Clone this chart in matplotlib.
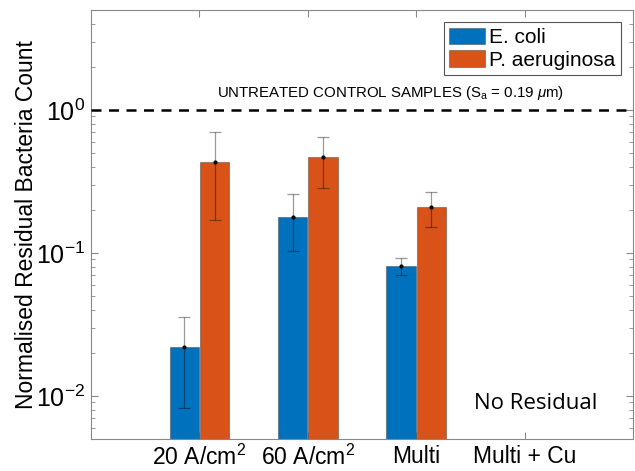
import numpy as np
import matplotlib.pyplot as plt
from matplotlib.ticker import LogLocator, NullFormatter

plt.rcParams['font.family'] = ['Liberation Sans', 'DejaVu Sans']
plt.rcParams['mathtext.fontset'] = 'custom'
plt.rcParams['mathtext.rm'] = 'Liberation Sans'
plt.rcParams['mathtext.it'] = 'Liberation Sans:italic'
plt.rcParams['axes.unicode_minus'] = False

categories = ["20 A/cm$^2$", "60 A/cm$^2$", "Multi", "Multi + Cu"]
series = ["E. coli", "P. aeruginosa"]
colors = ["#0072BD", "#D95319"]

# values for the first three categories; Multi + Cu has no residual
ecoli = [0.022, 0.179, 0.081]
ecoli_lo = [0.0082, 0.103, 0.070]
ecoli_hi = [0.0357, 0.259, 0.092]
paer = [0.433, 0.469, 0.210]
paer_lo = [0.170, 0.285, 0.152]
paer_hi = [0.70, 0.65, 0.267]

control_level = 1.0

fig = plt.figure(figsize=(6.35, 4.71), dpi=100)
ax = fig.add_axes([91 / 635, 1 - 439 / 471, (633 - 91) / 635, (439 - 10) / 471])

x = np.arange(1, len(categories) + 1)
w = 0.27
off = 0.14
for i, (vals, lo, hi, name) in enumerate([(ecoli, ecoli_lo, ecoli_hi, series[0]),
                                          (paer, paer_lo, paer_hi, series[1])]):
    xs = x[:len(vals)] + (-off if i == 0 else off)
    ax.bar(xs, vals, width=w, color=colors[i], edgecolor=(0.3, 0.3, 0.3, 0.5),
           linewidth=0.8, label=name, zorder=2)
    vals = np.array(vals)
    yerr = [vals - np.array(lo), np.array(hi) - vals]
    ax.errorbar(xs, vals, yerr=yerr, fmt='o', ms=2, color='black', ecolor=(0, 0, 0, 0.4),
                elinewidth=0.9, capsize=4, capthick=0.9, zorder=3)

ax.axhline(control_level, color='black', ls=(0, (4, 3)), lw=1.8, zorder=4)
ax.text(2.76, 1.14, r"UNTREATED CONTROL SAMPLES (S$_{\rm a}$ = 0.19 $\mu$m)",
        ha='center', va='bottom', fontsize=10.8)
ax.text(4.1, 0.0088, "No Residual", ha='center', va='center', fontsize=16,
        family=['Open Sans', 'DejaVu Sans'])

ax.set_yscale('log')
ax.set_ylim(0.005, 5)
ax.set_xlim(0, 5)
ax.set_xticks(x)
ax.set_xticklabels(categories, fontsize=16.5)
ax.yaxis.set_major_locator(LogLocator(base=10, numticks=10))
ax.yaxis.set_minor_locator(LogLocator(base=10, subs=np.arange(2, 10), numticks=10))
ax.yaxis.set_minor_formatter(NullFormatter())
ax.tick_params(axis='y', labelsize=18, pad=4)
ax.tick_params(which='both', direction='in', top=True, right=True, color='#888888')
ax.tick_params(which='major', length=5)
ax.tick_params(which='minor', length=3)
ax.tick_params(axis='x', pad=4)
for s in ax.spines.values():
    s.set_color('#888888')
    s.set_linewidth(0.8)
ax.set_ylabel("Normalised Residual Bacteria Count", fontsize=16.5, labelpad=-1)

leg = ax.legend(loc='upper right', fontsize=15, fancybox=False, framealpha=1,
                edgecolor='#555555', handlelength=1.7, handleheight=0.85,
                handletextpad=0.2, borderpad=0.25, labelspacing=0.15,
                borderaxespad=0.6)
leg.get_frame().set_linewidth(0.8)

fig.savefig("out.png", dpi=100)
